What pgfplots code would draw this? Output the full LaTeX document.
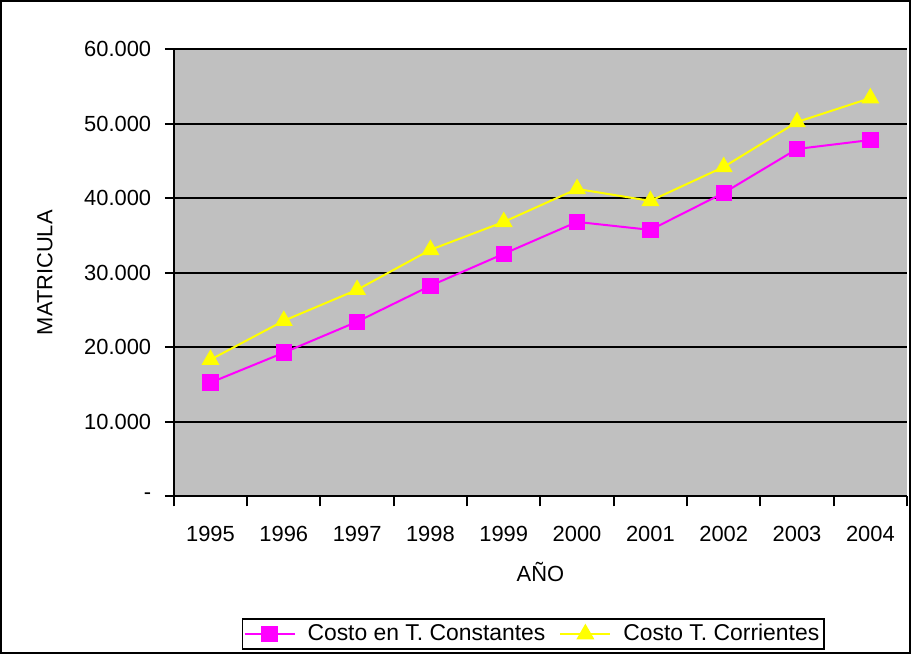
\documentclass[border=0pt]{standalone}
\usepackage{fontspec}
\setmainfont{Liberation Sans}
\usepackage{pgfplots}
\pgfplotsset{compat=1.18}
\definecolor{plotgray}{HTML}{C0C0C0}
\definecolor{mag}{HTML}{FF00FF}
\definecolor{yel}{HTML}{FFFF00}
\begin{document}
\fontsize{11}{13}\selectfont
\begin{tikzpicture}
\begin{axis}[name=ax,
  width=367bp, height=224bp, scale only axis,
  xmin=-0.5, xmax=9.5, ymin=0, ymax=60000,
  scaled y ticks=false,
  axis background/.style={fill=plotgray},
  axis x line=bottom, axis y line=left,
  axis line style={-, line width=1bp, black},
  tick align=outside,
  xtick={0,1,2,3,4,5,6,7,8,9},
  xticklabels={1995,1996,1997,1998,1999,2000,2001,2002,2003,2004},
  major x tick style={draw=none},
  minor xtick={-0.5,0.5,1.5,2.5,3.5,4.5,5.5,6.5,7.5,8.5,9.5},
  minor x tick style={black, line width=1bp},
  minor tick length=5bp,
  ytick={0,10000,20000,30000,40000,50000,60000},
  yticklabels={-,10.000,20.000,30.000,40.000,50.000,60.000},
  major y tick style={black, line width=1bp},
  major tick length=4.5bp,
  yticklabel style={xshift=-3bp},
  xticklabel style={yshift=-6.5bp},
  ymajorgrids, grid style={black, line width=1bp},
  xlabel={AÑO}, ylabel={MATRICULA},
  xlabel style={at={([yshift=-38bp]axis description cs:0.5,0)}, anchor=center},
  ylabel style={at={([xshift=-64.5bp]axis description cs:0,0.5)}, anchor=center},
  legend columns=2,
  legend style={at={([xshift=-3.5bp,yshift=-61bp]axis description cs:0.5,0)}, anchor=north,
    draw=black, line width=0.8bp, inner sep=0.5bp, font=\fontsize{11.5}{13}\selectfont,
    nodes={inner sep=2bp},
    /tikz/every odd column/.append style={column sep=4bp},
    /tikz/every even column/.append style={column sep=5bp}},
  legend image code/.code={\draw[mark repeat=2,mark phase=2,line width=1bp] plot coordinates {(0bp,0bp)(12.5bp,0bp)(25bp,0bp)};},
  clip=false,
]
\addplot[mag, line width=1bp, mark=square*, mark size=3.6bp, mark options={solid, fill=mag}] coordinates {
(0,15260) (1,19280) (2,23430) (3,28250) (4,32530) (5,36810) (6,35740) (7,40700) (8,46590) (9,47790)};
\addlegendentry{Costo en T. Constantes}
\addplot[yel, line width=1bp, mark=triangle*, mark size=4.2bp, mark options={solid, fill=yel}] coordinates {
(0,18340) (1,23560) (2,27710) (3,33070) (4,36810) (5,41230) (6,39630) (7,44180) (8,50200) (9,53410)};
\addlegendentry{Costo T. Corrientes}
\end{axis}
\draw[line width=1bp] ([shift={(-86.5bp,-78.5bp)}]ax.south west) rectangle ([shift={(1.5bp,24bp)}]ax.north east);
\end{tikzpicture}
\end{document}
